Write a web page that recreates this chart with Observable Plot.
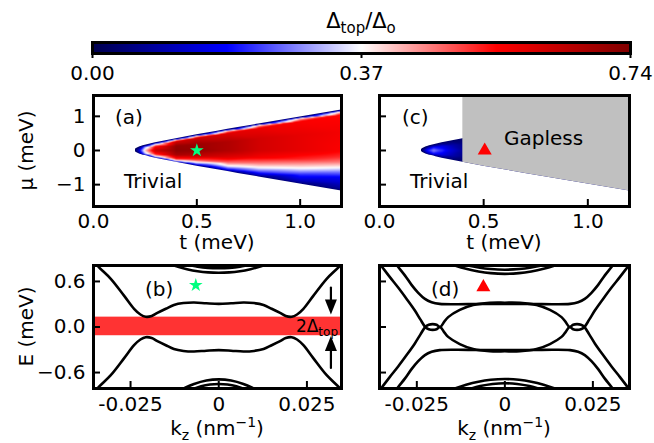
<!DOCTYPE html>
<html>
<head>
<meta charset="utf-8">
<script src="https://cdn.jsdelivr.net/npm/d3@7"></script>
<script src="https://cdn.jsdelivr.net/npm/@observablehq/plot@0.6"></script>
<style>
  html, body { margin: 0; padding: 0; background: #fff; }
  #fig { position: relative; width: 654px; height: 443px; overflow: hidden; font-family: "DejaVu Sans"; }
  #fig svg { position: absolute; left: 0; top: 0; }
</style>
</head>
<body>
<div id="fig"></div>
<script>
// ---------------- colour bar ----------------
const cbarTicks = [0, 0.37, 0.74];
const cbarTickLabels = ["0.00", "0.37", "0.74"];
const seismicStops = [0, 0.185, 0.37, 0.555, 0.74];
const seismicColors = ["#00004d", "#0000ff", "#ffffff", "#ff0000", "#800000"];

// ---------------- phase diagrams (a), (c) ----------------
const tDomain = [0, 1.2];
const muDomain = [-1.64, 1.61];
const tTicks = [0, 0.5, 1.0];
const tTickLabels = ["0.0", "0.5", "1.0"];
const muTicks = [-1, 0, 1];
const muTickLabels = ["\u22121", "0", "1"];

// boundary of the topological region
const edgeT  = [0.2, 0.201, 0.203, 0.206, 0.21, 0.22, 0.23, 0.25, 0.27, 0.3, 0.35, 0.4, 0.5, 0.6, 0.7, 0.8, 0.9, 1.0, 1.1, 1.2];
const edgeUp = [0, 0.02, 0.035, 0.05, 0.064, 0.092, 0.114, 0.15, 0.181, 0.224, 0.287, 0.346, 0.458, 0.566, 0.671, 0.775, 0.877, 0.98, 1.082, 1.183];
const edgeLo = [0, -0.02, -0.035, -0.05, -0.064, -0.092, -0.114, -0.15, -0.181, -0.224, -0.287, -0.346, -0.458, -0.566, -0.671, -0.775, -0.877, -0.98, -1.082, -1.183];

// (a) sampled values of Δtop/Δo, column by column
const heatA_t = [0.2, 0.22, 0.25, 0.3, 0.4, 0.5, 0.65, 0.8, 1.0, 1.2];
const heatA_mu = [
  [0],
  [0.092, 0, -0.092],
  [0.15, 0.1, 0, -0.1, -0.15],
  [0.224, 0.19, 0.12, 0, -0.12, -0.19, -0.224],
  [0.346, 0.315, 0.26, 0.13, 0, -0.13, -0.25, -0.31, -0.346],
  [0.458, 0.425, 0.36, 0.18, 0, -0.15, -0.28, -0.37, -0.42, -0.458],
  [0.618, 0.58, 0.5, 0.25, 0, -0.2, -0.35, -0.45, -0.55, -0.618],
  [0.775, 0.74, 0.65, 0.35, 0, -0.2, -0.38, -0.5, -0.62, -0.72, -0.775],
  [0.98, 0.94, 0.85, 0.45, 0, -0.25, -0.42, -0.52, -0.7, -0.88, -0.98],
  [1.183, 1.14, 1.05, 0.55, 0, -0.2, -0.35, -0.5, -0.62, -0.78, -0.95, -1.1, -1.183]
];
const heatA_v = [
  [0.02],
  [0.03, 0.15, 0.03],
  [0.03, 0.3, 0.42, 0.3, 0.03],
  [0.03, 0.33, 0.55, 0.64, 0.52, 0.3, 0.03],
  [0.03, 0.37, 0.62, 0.71, 0.72, 0.68, 0.52, 0.32, 0.03],
  [0.03, 0.38, 0.63, 0.70, 0.71, 0.65, 0.5, 0.32, 0.16, 0.03],
  [0.03, 0.4, 0.6, 0.67, 0.67, 0.6, 0.48, 0.37, 0.2, 0.03],
  [0.03, 0.4, 0.58, 0.62, 0.62, 0.57, 0.46, 0.37, 0.24, 0.12, 0.03],
  [0.03, 0.4, 0.56, 0.59, 0.59, 0.53, 0.43, 0.37, 0.22, 0.12, 0.04],
  [0.03, 0.4, 0.55, 0.57, 0.56, 0.52, 0.46, 0.37, 0.28, 0.18, 0.13, 0.08, 0.03]
];
// (c) small topological pocket
const heatC_t = [0.2, 0.23, 0.26, 0.3, 0.35, 0.4];
const heatC_mu = [
  [0],
  [0.114, 0.06, 0, -0.06, -0.114],
  [0.166, 0.09, 0, -0.09, -0.166],
  [0.224, 0.12, 0, -0.12, -0.224],
  [0.287, 0.15, 0, -0.15, -0.287],
  [0.346, 0.18, 0, -0.18, -0.346]
];
const heatC_v = [
  [0.02],
  [0.03, 0.14, 0.2, 0.14, 0.03],
  [0.03, 0.2, 0.28, 0.2, 0.03],
  [0.03, 0.16, 0.22, 0.16, 0.03],
  [0.03, 0.1, 0.14, 0.1, 0.03],
  [0.03, 0.06, 0.08, 0.06, 0.03]
];
// (c) gapless region, lower border
const gapT  = [0.4, 0.5, 0.6, 0.7, 0.8, 0.9, 1.0, 1.1, 1.2];
const gapLo = [-0.346, -0.458, -0.566, -0.671, -0.775, -0.877, -0.98, -1.082, -1.183];

const starA = {t: 0.5, mu: 0};
const triC = {t: 0.505, mu: 0};

// ---------------- spectra (b), (d) ----------------
const eDomain = [-0.81, 0.81];
const bKzDomain = [-0.0355, 0.0348];
const dKzDomain = [-0.0356, 0.0354];
const kzTicks = [-0.025, 0, 0.025];
const kzTickLabels = ["-0.025", "0", "0.025"];
const eTicks = [-0.6, 0, 0.6];
const eTickLabels = ["\u22120.6", "0.0", "0.6"];

// (b)
const bBand1Kz = [-0.0358, -0.034, -0.0306, -0.0268, -0.024, -0.0222, -0.0207, -0.019, -0.0174, -0.015, -0.0127, -0.010, -0.007, -0.0035, 0, 0.0035, 0.007, 0.010, 0.0127, 0.015, 0.0174, 0.019, 0.0207, 0.0222, 0.024, 0.0268, 0.0306, 0.034, 0.0358];
const bBand1E  = [0.89, 0.79, 0.635, 0.41, 0.24, 0.165, 0.135, 0.145, 0.185, 0.24, 0.29, 0.315, 0.322, 0.312, 0.305, 0.312, 0.322, 0.315, 0.29, 0.24, 0.185, 0.145, 0.135, 0.165, 0.24, 0.41, 0.635, 0.79, 0.89];
const bBand2E  = [-0.89, -0.79, -0.635, -0.41, -0.24, -0.165, -0.135, -0.145, -0.185, -0.24, -0.29, -0.315, -0.322, -0.312, -0.305, -0.312, -0.322, -0.315, -0.29, -0.24, -0.185, -0.145, -0.135, -0.165, -0.24, -0.41, -0.635, -0.79, -0.89];
const bCapTopKz = [-0.0135, -0.0113, -0.009, -0.006, -0.003, 0, 0.003, 0.006, 0.009, 0.0113, 0.0135];
const bCapTopE  = [0.822, 0.79, 0.762, 0.735, 0.719, 0.714, 0.719, 0.735, 0.762, 0.79, 0.822];
const bCapTop2Kz = [-0.0095, -0.006, -0.003, 0, 0.003, 0.006, 0.0095];
const bCapTop2E  = [0.83, 0.795, 0.779, 0.775, 0.779, 0.795, 0.83];
const bCapBotKz = [-0.0105, -0.0095, -0.007, -0.0035, 0, 0.0035, 0.007, 0.0095, 0.0105];
const bCapBotE  = [-0.825, -0.80, -0.75, -0.705, -0.69, -0.705, -0.75, -0.80, -0.825];
const bCapBot2Kz = [-0.0075, -0.005, -0.0025, 0, 0.0025, 0.005, 0.0075];
const bCapBot2E  = [-0.82, -0.78, -0.757, -0.75, -0.757, -0.78, -0.82];
const gapBand = [-0.115, 0.13];
const arrowKz = [0.0318, 0.0318];
const arrowFrom = [0.52, -0.54];
const arrowTo = [0.165, -0.12];
const arrowRot = [0, 180];
const starB = {kz: -0.0065, E: 0.55};

// (d)
const dOuterKz = [-0.0318, -0.0306, -0.0284, -0.0265, -0.0246, -0.0227, -0.0208, -0.0185, -0.0138, -0.0081, 0, 0.0081, 0.0138, 0.0185, 0.0208, 0.0227, 0.0246, 0.0265, 0.0284, 0.0306, 0.0318];
const dOuterUpE = [0.90, 0.81, 0.68, 0.555, 0.45, 0.37, 0.327, 0.305, 0.30, 0.303, 0.305, 0.303, 0.30, 0.305, 0.327, 0.37, 0.45, 0.555, 0.68, 0.81, 0.90];
const dOuterLoE = [-0.90, -0.81, -0.68, -0.555, -0.45, -0.37, -0.327, -0.305, -0.30, -0.303, -0.305, -0.303, -0.30, -0.305, -0.327, -0.37, -0.45, -0.555, -0.68, -0.81, -0.90];
const dCrossKz = [-0.0362, -0.035, -0.0327, -0.0303, -0.0279, -0.0256, -0.024, -0.0226, -0.0216, -0.0205, -0.0194, -0.0184, -0.0172, -0.0161, -0.0128, -0.009, -0.0043, 0, 0.0043, 0.009, 0.0128, 0.0161, 0.0172, 0.0184, 0.0194, 0.0205, 0.0216, 0.0226, 0.024, 0.0256, 0.0279, 0.0303, 0.0327, 0.035, 0.0362];
const dCrossUE = [0.87, 0.80, 0.66, 0.52, 0.37, 0.22, 0.10, 0, -0.03, -0.038, -0.03, 0, -0.07, -0.13, -0.225, -0.29, -0.318, -0.32, -0.318, -0.29, -0.225, -0.13, -0.07, 0, -0.03, -0.038, -0.03, 0, 0.10, 0.22, 0.37, 0.52, 0.66, 0.80, 0.87];
const dCrossNE = [-0.87, -0.80, -0.66, -0.52, -0.37, -0.22, -0.10, 0, 0.03, 0.038, 0.03, 0, 0.07, 0.13, 0.225, 0.29, 0.318, 0.32, 0.318, 0.29, 0.225, 0.13, 0.07, 0, 0.03, 0.038, 0.03, 0, -0.10, -0.22, -0.37, -0.52, -0.66, -0.80, -0.87];
const dCapTopKz = [-0.015, -0.0142, -0.011, -0.0075, -0.004, 0, 0.004, 0.0075, 0.011, 0.0142, 0.015];
const dCapTopE  = [0.823, 0.81, 0.766, 0.731, 0.709, 0.70, 0.709, 0.731, 0.766, 0.81, 0.823];
const dCapTop2Kz = [-0.0115, -0.0105, -0.0075, -0.004, 0, 0.004, 0.0075, 0.0105, 0.0115];
const dCapTop2E  = [0.82, 0.81, 0.783, 0.763, 0.755, 0.763, 0.783, 0.81, 0.82];
const dCapBotKz = [-0.015, -0.0142, -0.011, -0.0075, -0.004, 0, 0.004, 0.0075, 0.011, 0.0142, 0.015];
const dCapBotE  = [-0.825, -0.81, -0.76, -0.72, -0.695, -0.685, -0.695, -0.72, -0.76, -0.81, -0.825];
const dCapBot2Kz = [-0.0105, -0.0095, -0.007, -0.0035, 0, 0.0035, 0.007, 0.0095, 0.0105];
const dCapBot2E  = [-0.826, -0.81, -0.778, -0.75, -0.74, -0.75, -0.778, -0.81, -0.826];
const triD = {kz: -0.0061, E: 0.525};

// ---------------- build tables ----------------
const columns = (T, M, V) => T.flatMap((t, i) => M[i].map((mu, j) => ({t, mu, v: V[i][j]})));
const heatA = columns(heatA_t, heatA_mu, heatA_v);
const heatC = columns(heatC_t, heatC_mu, heatC_v);
const edgeRows = edgeT.map((t, i) => ({t, up: edgeUp[i], lo: edgeLo[i]}));
const gapRows = gapT.map((t, i) => ({t, lo: gapLo[i]}));
const series = (id, K, E) => K.map((kz, i) => ({id, kz, E: E[i]}));
const bRows = [
  ...series("b1", bBand1Kz, bBand1E), ...series("b2", bBand1Kz, bBand2E),
  ...series("c1", bCapTopKz, bCapTopE), ...series("c2", bCapTop2Kz, bCapTop2E),
  ...series("c3", bCapBotKz, bCapBotE), ...series("c4", bCapBot2Kz, bCapBot2E)
];
const dRows = [
  ...series("p1", dOuterKz, dOuterUpE), ...series("p2", dOuterKz, dOuterLoE),
  ...series("q1", dCrossKz, dCrossUE), ...series("q2", dCrossKz, dCrossNE),
  ...series("c1", dCapTopKz, dCapTopE), ...series("c2", dCapTop2Kz, dCapTop2E),
  ...series("c3", dCapBotKz, dCapBotE), ...series("c4", dCapBot2Kz, dCapBot2E)
];
const arrowRows = arrowKz.map((kz, i) => ({kz, from: arrowFrom[i], to: arrowTo[i], rot: arrowRot[i]}));

// ---------------- helpers ----------------
const W = 654, H = 443;
const fig = document.getElementById("fig");
const colorScale = {type: "linear", domain: seismicStops, range: seismicColors, interpolate: "rgb", clamp: true};
function frameOpts(f) {
  return {
    width: W, height: H,
    marginLeft: f[0], marginTop: f[1], marginRight: W - f[2], marginBottom: H - f[3],
    style: {background: "transparent", fontFamily: "DejaVu Sans", fontSize: "20px", color: "black"}
  };
}
const fmt = (ticks, labels) => (d) => labels[ticks.indexOf(d)];
function innerTicks(xt, yt, f, len = 7) {
  const fw = f[2] - f[0], fh = f[3] - f[1];
  return [
    Plot.tickX(xt, {x: (d) => d, insetTop: fh - len, stroke: "black", strokeWidth: 2}),
    Plot.tickY(yt, {y: (d) => d, insetRight: fw - len, stroke: "black", strokeWidth: 2})
  ];
}
const frameMark = () => Plot.frame({stroke: "black", strokeWidth: 3});
const arrowHead = {draw(ctx) { ctx.moveTo(0, 0); ctx.lineTo(-6, -15); ctx.lineTo(6, -15); ctx.closePath(); }};
const lineStyle = {x: "kz", y: "E", z: "id", stroke: "black", strokeWidth: 2.6, curve: "catmull-rom", clip: true};
// white masks outside the boundary of the topological region
const masks = () => [
  Plot.areaY(edgeRows, {x: "t", y1: "up", y2: muDomain[1], fill: "white", curve: "monotone-x", clip: true}),
  Plot.areaY(edgeRows, {x: "t", y1: "lo", y2: muDomain[0], fill: "white", curve: "monotone-x", clip: true}),
  Plot.rect(edgeRows.slice(2, 3), {x1: tDomain[0], x2: "t", fill: "white", shapeRendering: "crispEdges"})
];

// ---------------- colour bar ----------------
const cbFrame = [92, 42, 630, 53];
fig.append(Plot.plot({
  ...frameOpts(cbFrame),
  x: {domain: [cbarTicks[0], cbarTicks[cbarTicks.length - 1]]},
  y: {domain: [0, 1], axis: null},
  color: colorScale,
  marks: [
    Plot.raster({fill: (x) => x, x1: cbarTicks[0], x2: cbarTicks[2], y1: 0, y2: 1}),
    Plot.axisX({ticks: cbarTicks, tickFormat: fmt(cbarTicks, cbarTickLabels), tickSize: 5, tickPadding: 7, strokeWidth: 2, label: null}),
    frameMark()
  ]
}));

// ---------------- (a) ----------------
const aFrame = [93, 95, 341, 206];
fig.append(Plot.plot({
  ...frameOpts(aFrame),
  x: {domain: tDomain}, y: {domain: muDomain}, color: colorScale,
  marks: [
    Plot.raster(heatA, {x: "t", y: "mu", fill: "v", interpolate: "barycentric"}),
    ...masks(),
    Plot.dot([starA], {x: "t", y: "mu", symbol: "star", r: 4.3, fill: "#00ff7f", stroke: "none"}),
    ...innerTicks(tTicks, muTicks, aFrame),
    Plot.axisX({ticks: tTicks, tickFormat: fmt(tTicks, tTickLabels), tickSize: 0, tickPadding: 7, label: null}),
    Plot.axisY({ticks: muTicks, tickFormat: fmt(muTicks, muTickLabels), tickSize: 0, tickPadding: 8, label: null}),
    frameMark()
  ]
}));

// ---------------- (c) ----------------
const cFrame = [379, 95, 629, 206];
fig.append(Plot.plot({
  ...frameOpts(cFrame),
  x: {domain: tDomain}, y: {domain: muDomain, axis: null}, color: colorScale,
  marks: [
    Plot.raster(heatC, {x: "t", y: "mu", fill: "v", interpolate: "barycentric"}),
    ...masks(),
    Plot.areaY(gapRows, {x: "t", y1: "lo", y2: muDomain[1], fill: "#c0c0c0", curve: "monotone-x", clip: true}),
    Plot.dot([triC], {x: "t", y: "mu", symbol: "triangle", r: 5.2, fill: "#ff0000", stroke: "none"}),
    ...innerTicks(tTicks, muTicks, cFrame),
    Plot.axisX({ticks: tTicks, tickFormat: fmt(tTicks, tTickLabels), tickSize: 0, tickPadding: 7, label: null}),
    frameMark()
  ]
}));

// ---------------- (b) ----------------
const bFrame = [93, 265, 341, 388];
fig.append(Plot.plot({
  ...frameOpts(bFrame),
  x: {domain: bKzDomain}, y: {domain: eDomain},
  marks: [
    Plot.rect([gapBand], {y1: (d) => d[0], y2: (d) => d[1], fill: "#ff3333"}),
    Plot.line(bRows, lineStyle),
    Plot.arrow(arrowRows, {x1: "kz", x2: "kz", y1: "from", y2: "to", stroke: "black", strokeWidth: 2.2, headLength: 0, insetEnd: 10}),
    Plot.dot(arrowRows, {x: "kz", y: "to", symbol: arrowHead, rotate: "rot", fill: "black", stroke: "none"}),
    Plot.dot([starB], {x: "kz", y: "E", symbol: "star", r: 4.3, fill: "#00ff7f", stroke: "none"}),
    ...innerTicks(kzTicks, eTicks, bFrame),
    Plot.axisX({ticks: kzTicks, tickFormat: fmt(kzTicks, kzTickLabels), tickSize: 0, tickPadding: 8, label: null}),
    Plot.axisY({ticks: eTicks, tickFormat: fmt(eTicks, eTickLabels), tickSize: 0, tickPadding: 8, label: null}),
    frameMark()
  ]
}));

// ---------------- (d) ----------------
const dFrame = [379, 265, 629, 388];
fig.append(Plot.plot({
  ...frameOpts(dFrame),
  x: {domain: dKzDomain}, y: {domain: eDomain, axis: null},
  marks: [
    Plot.line(dRows, lineStyle),
    Plot.dot([triD], {x: "kz", y: "E", symbol: "triangle", r: 5.2, fill: "#ff0000", stroke: "none"}),
    ...innerTicks(kzTicks, eTicks, dFrame),
    Plot.axisX({ticks: kzTicks, tickFormat: fmt(kzTicks, kzTickLabels), tickSize: 0, tickPadding: 8, label: null}),
    frameMark()
  ]
}));

// ---------------- text layer ----------------
const txt = d3.create("svg").attr("width", W).attr("height", H)
  .attr("font-family", "DejaVu Sans").attr("fill", "black").style("white-space", "pre");
function addText(x, y, parts, {size = 20, anchor = "start", rotate = 0} = {}) {
  const t = txt.append("text").attr("transform", `translate(${x},${y}) rotate(${rotate})`)
    .attr("text-anchor", anchor).attr("font-size", size);
  for (const p of parts) {
    const s = t.append("tspan").text(p.text);
    if (p.size) s.attr("font-size", p.size);
    if (p.dy) s.attr("dy", p.dy);
  }
}
addText(361, 28, [{text: "\u0394"}, {text: "top", size: 15, dy: 5}, {text: "/\u0394", dy: -5}, {text: "o", size: 15, dy: 5}], {size: 21, anchor: "middle"});
addText(33, 150.5, [{text: "\u03bc (meV)"}], {anchor: "middle", rotate: -90});
addText(33, 326.5, [{text: "E (meV)"}], {anchor: "middle", rotate: -90});
addText(217, 249, [{text: "t (meV)"}], {anchor: "middle"});
addText(504, 249, [{text: "t (meV)"}], {anchor: "middle"});
const kzLabel = [{text: "k"}, {text: "z", size: 14, dy: 5}, {text: " (nm", dy: -5}, {text: "\u22121", size: 14, dy: -8}, {text: ")", dy: 8}];
addText(217, 435, kzLabel, {anchor: "middle"});
addText(504, 435, kzLabel, {anchor: "middle"});
addText(115, 124, [{text: "(a)"}]);
addText(402, 124, [{text: "(c)"}]);
addText(145, 296, [{text: "(b)"}]);
addText(431, 296, [{text: "(d)"}]);
addText(124, 188, [{text: "Trivial"}]);
addText(410, 188, [{text: "Trivial"}]);
addText(504, 145, [{text: "Gapless"}]);
addText(338, 331.5, [{text: "2\u0394"}, {text: "top", size: 12, dy: 4}], {size: 17, anchor: "end"});
fig.append(txt.node());
</script>
</body>
</html>
